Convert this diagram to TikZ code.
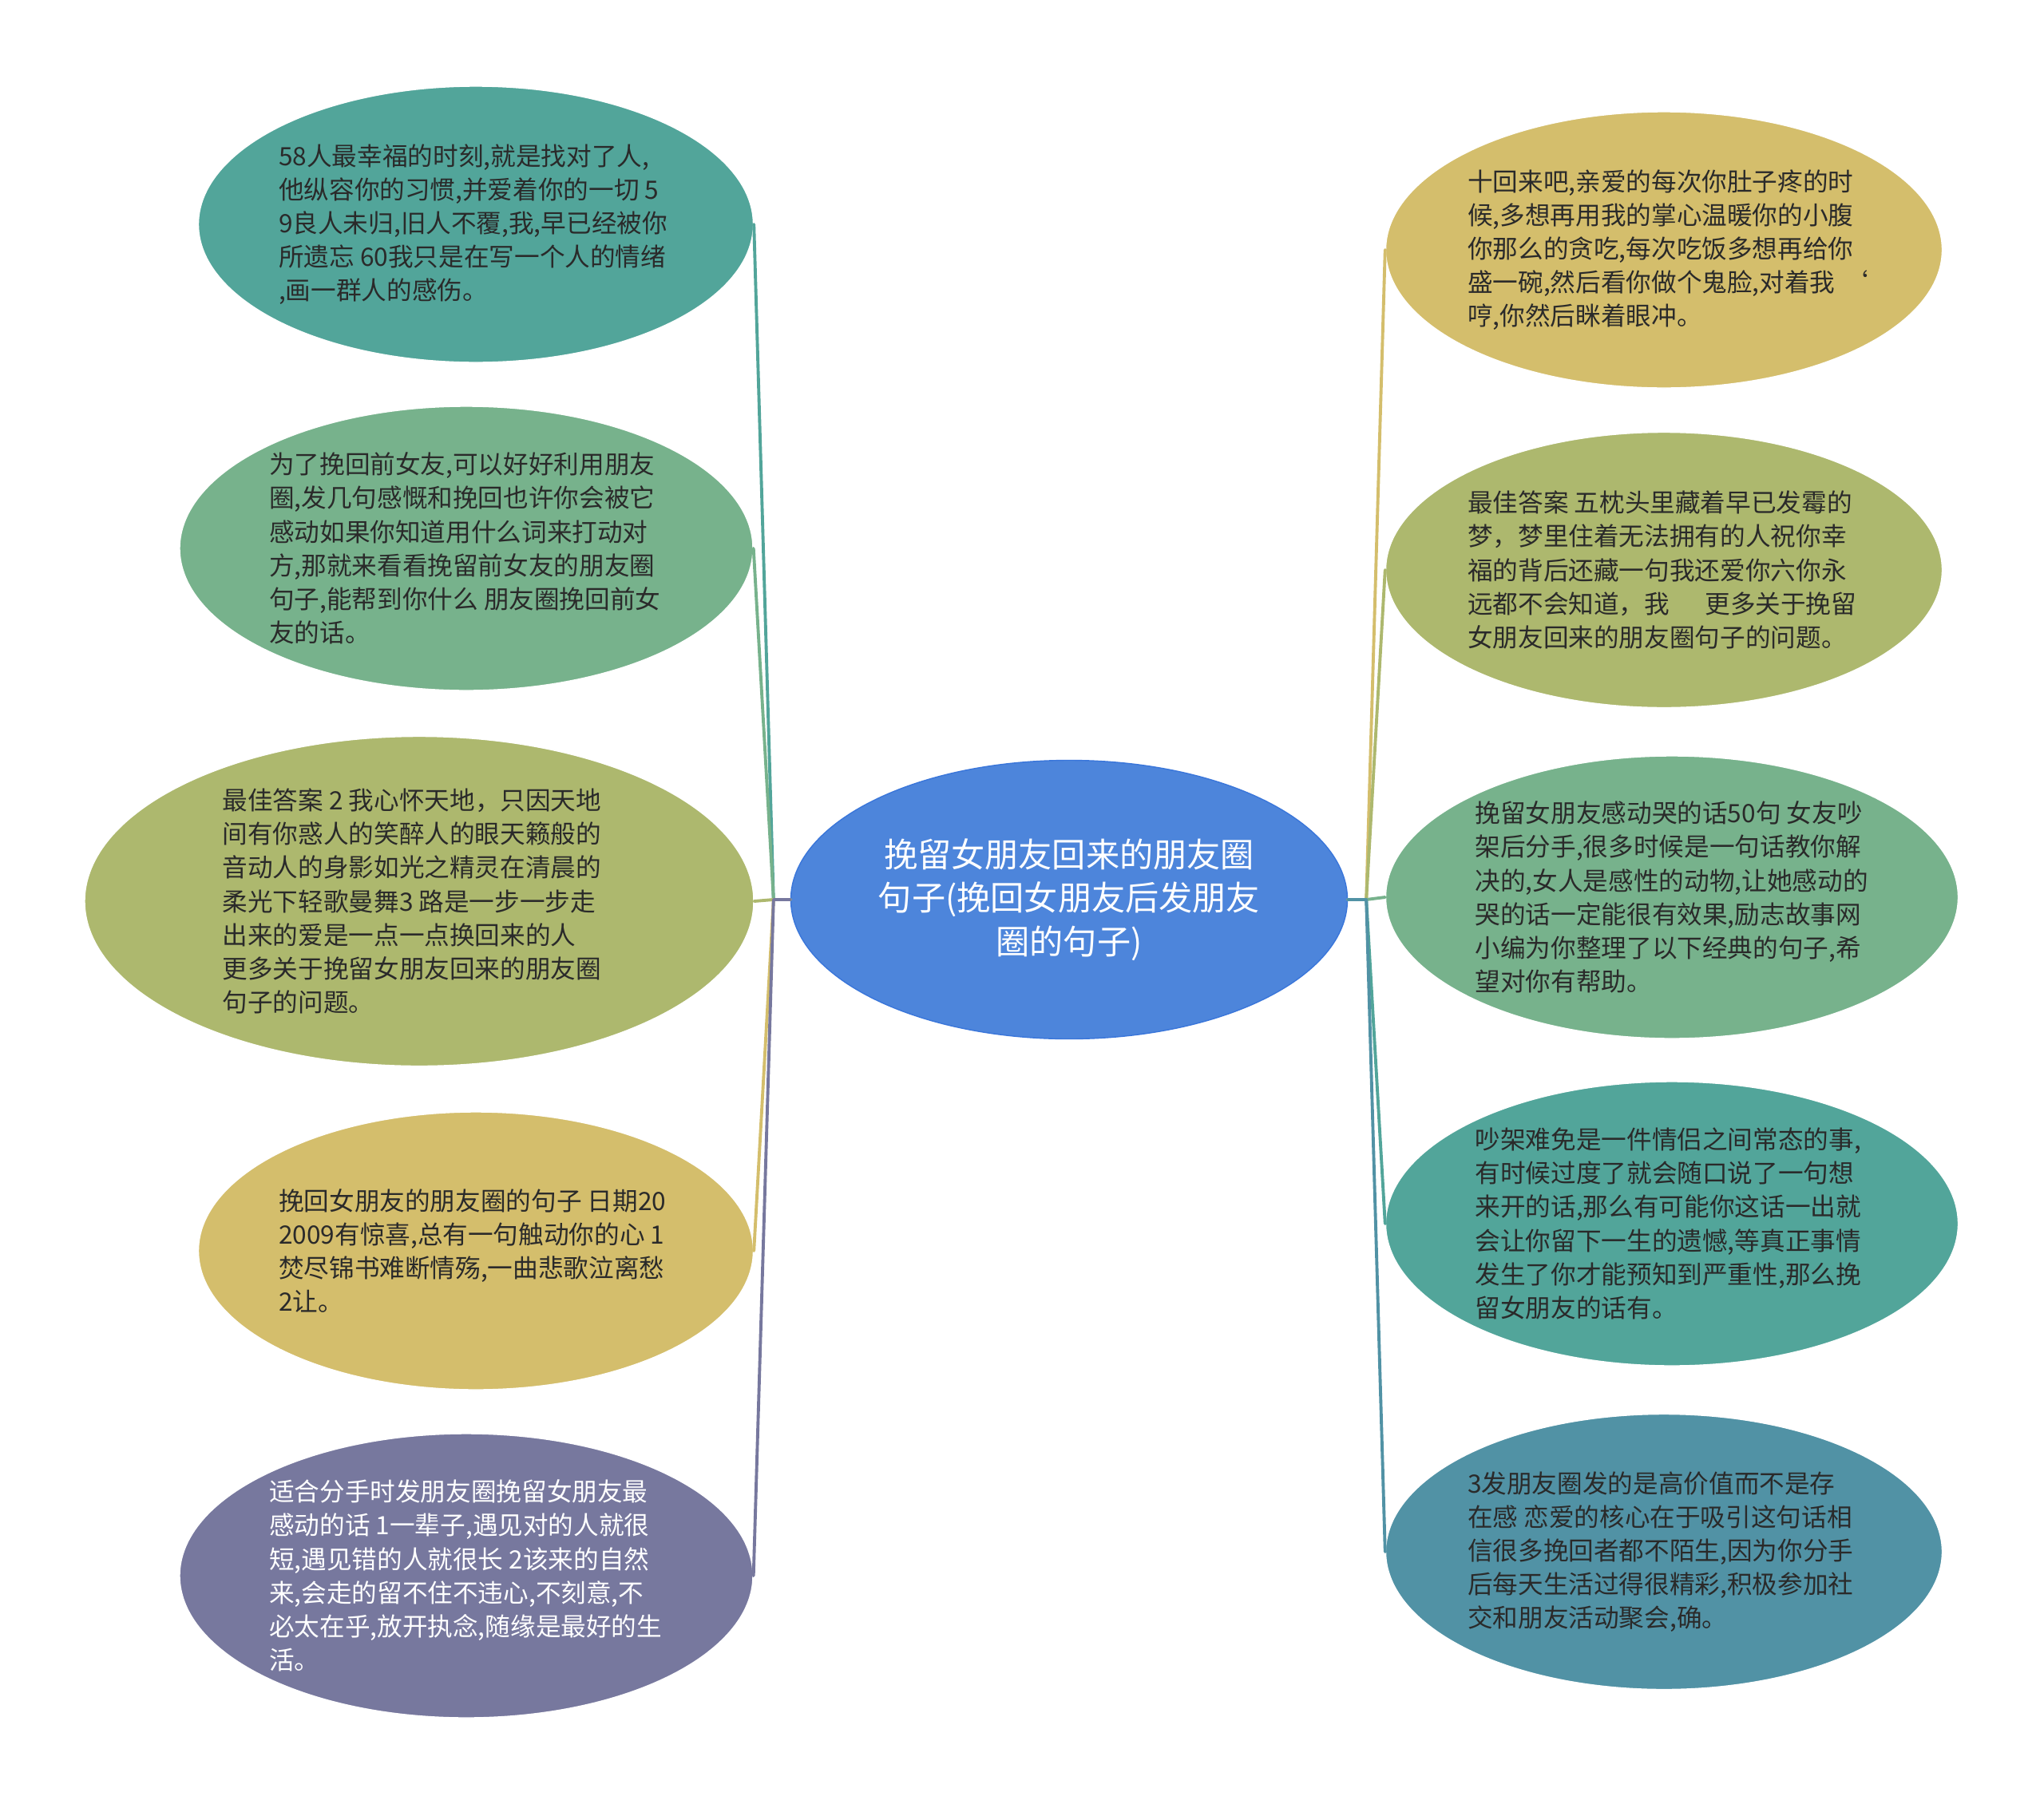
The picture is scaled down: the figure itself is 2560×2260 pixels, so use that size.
\documentclass[tikz,border=0pt]{standalone}
\usepackage{fontspec}
\setmainfont{Noto Sans CJK SC}
\usetikzlibrary{shapes.geometric}
\definecolor{ink}{HTML}{2A2A2A}
\definecolor{hub}{HTML}{4D85DB}
\definecolor{hubline}{HTML}{3A76DA}
\definecolor{cteal}{HTML}{52A59A}
\definecolor{cgreen}{HTML}{77B28C}
\definecolor{colive}{HTML}{ADB86E}
\definecolor{cgold}{HTML}{D4BE6C}
\definecolor{cpurple}{HTML}{77789E}
\definecolor{csea}{HTML}{5192A5}
\tikzset{
  bub/.style={ellipse, draw=white, line width=0.8pt, inner sep=0pt},
  txt/.style={text=ink, align=left, inner sep=0pt, anchor=west,
    font=\fontsize{18pt}{24pt}\selectfont},
  link/.style={line width=2.2pt, line cap=round, line join=round},
}

\begin{document}
\begin{tikzpicture}[x=0.2mm, y=-0.2mm]
  \fill[white] (0,0) rectangle (2560,2260);
  \useasboundingbox (0,0) rectangle (2560,2260);
  % centre
  \node[bub, fill=hub, draw=hubline, minimum width=139.4mm, minimum height=69.8mm] (c) at (1339,1127) {};
  \node[text=white, align=center, inner sep=0pt, font=\fontsize{24pt}{31pt}\selectfont] (ct) at (c)
    {挽留女朋友回来的朋友圈\\句子(挽回女朋友后发朋友\\圈的句子)};
  \coordinate (jl) at ([xshift=-4.2mm]c.west);
  \coordinate (jr) at ([xshift=4.6mm]c.east);
  % left side
  \node[bub, fill=cteal, minimum width=139mm, minimum height=69.2mm] (l1) at (596,281) {};
  \node[txt] (l1t) at ([xshift=20.2mm]l1.west)
    {58人最幸福的时刻,就是找对了人,\\他纵容你的习惯,并爱着你的一切 5\\9良人未归,旧人不覆,我,早已经被你\\所遗忘 60我只是在写一个人的情绪\\,画一群人的感伤。};
  \node[bub, fill=cgreen, minimum width=143.6mm, minimum height=71.2mm] (l2) at (584,687) {};
  \node[txt] (l2t) at ([xshift=22.5mm]l2.west)
    {为了挽回前女友,可以好好利用朋友\\圈,发几句感慨和挽回也许你会被它\\感动如果你知道用什么词来打动对\\方,那就来看看挽留前女友的朋友圈\\句子,能帮到你什么 朋友圈挽回前女\\友的话。};
  \node[bub, fill=colive, minimum width=167.6mm, minimum height=82.6mm] (l3) at (525,1129) {};
  \node[txt] (l3t) at ([xshift=34.6mm]l3.west)
    {最佳答案 2 我心怀天地，只因天地\\间有你惑人的笑醉人的眼天籁般的\\音动人的身影如光之精灵在清晨的\\柔光下轻歌曼舞3 路是一步一步走\\出来的爱是一点一点换回来的人\\更多关于挽留女朋友回来的朋友圈\\句子的问题。};
  \node[bub, fill=cgold, minimum width=139mm, minimum height=69.6mm] (l4) at (596,1567) {};
  \node[txt] (l4t) at ([xshift=20.2mm]l4.west)
    {挽回女朋友的朋友圈的句子 日期20\\2009有惊喜,总有一句触动你的心 1\\焚尽锦书难断情殇,一曲悲歌泣离愁\\2让。};
  \node[bub, fill=cpurple, minimum width=143.6mm, minimum height=71.2mm] (l5) at (584,1974) {};
  \node[txt, text=white] (l5t) at ([xshift=22.5mm]l5.west)
    {适合分手时发朋友圈挽留女朋友最\\感动的话 1一辈子,遇见对的人就很\\短,遇见错的人就很长 2该来的自然\\来,会走的留不住不违心,不刻意,不\\必太在乎,放开执念,随缘是最好的生\\活。};
  % right side
  \node[bub, fill=cgold, minimum width=139.4mm, minimum height=69.2mm] (r1) at (2084,313) {};
  \node[txt] (r1t) at ([xshift=20.6mm]r1.west)
    {十回来吧,亲爱的每次你肚子疼的时\\候,多想再用我的掌心温暖你的小腹\\你那么的贪吃,每次吃饭多想再给你\\盛一碗,然后看你做个鬼脸,对着我\hspace{0.3em}‘\\哼,你然后眯着眼冲。};
  \node[bub, fill=colive, minimum width=139.4mm, minimum height=69mm] (r2) at (2084,714) {};
  \node[txt] (r2t) at ([xshift=20.6mm]r2.west)
    {最佳答案 五枕头里藏着早已发霉的\\梦，梦里住着无法拥有的人祝你幸\\福的背后还藏一句我还爱你六你永\\远都不会知道，我\hspace{1.4em}更多关于挽留\\女朋友回来的朋友圈句子的问题。};
  \node[bub, fill=cgreen, minimum width=143.4mm, minimum height=70.8mm] (r3) at (2094,1124) {};
  \node[txt] (r3t) at ([xshift=22.5mm]r3.west)
    {挽留女朋友感动哭的话50句 女友吵\\架后分手,很多时候是一句话教你解\\决的,女人是感性的动物,让她感动的\\哭的话一定能很有效果,励志故事网\\小编为你整理了以下经典的句子,希\\望对你有帮助。};
  \node[bub, fill=cteal, minimum width=143.4mm, minimum height=71.2mm] (r4) at (2094,1533) {};
  \node[txt] (r4t) at ([xshift=22.5mm]r4.west)
    {吵架难免是一件情侣之间常态的事,\\有时候过度了就会随口说了一句想\\来开的话,那么有可能你这话一出就\\会让你留下一生的遗憾,等真正事情\\发生了你才能预知到严重性,那么挽\\留女朋友的话有。};
  \node[bub, fill=csea, minimum width=139.4mm, minimum height=69mm] (r5) at (2084,1944) {};
  \node[txt] (r5t) at ([xshift=20.6mm]r5.west)
    {3发朋友圈发的是高价值而不是存\\在感 恋爱的核心在于吸引这句话相\\信很多挽回者都不陌生,因为你分手\\后每天生活过得很精彩,积极参加社\\交和朋友活动聚会,确。};
  % connectors
  \foreach \n/\c in {l1/cteal,l2/cgreen,l3/colive,l4/cgold,l5/cpurple}
    \draw[link,draw=\c] (c.west) -- (jl) -- (\n.east);
  \foreach \n/\c in {r1/cgold,r2/colive,r3/cgreen,r4/cteal,r5/csea}
    \draw[link,draw=\c] (c.east) -- (jr) -- (\n.west);
\end{tikzpicture}
\end{document}
